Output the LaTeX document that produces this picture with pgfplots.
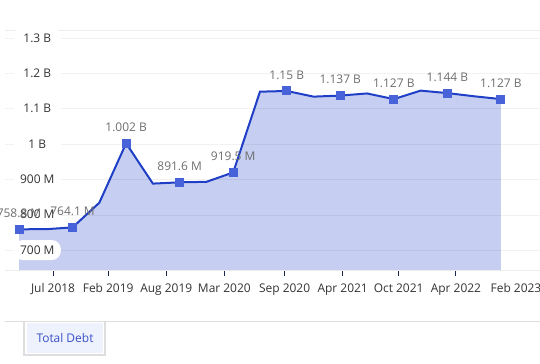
\documentclass[border=0pt]{standalone}
\usepackage{pgfplots}
\pgfplotsset{compat=1.18}
\usepackage{fontspec}
\setmainfont{Open Sans}
\definecolor{linec}{HTML}{1F3FC7}
\definecolor{fillc}{HTML}{C6CEF1}
\definecolor{markc}{HTML}{4863DA}
\definecolor{tickc}{HTML}{333333}
\definecolor{labc}{HTML}{6E6E6E}
\definecolor{navyc}{HTML}{1C2550}
\definecolor{legc}{HTML}{3A50C8}
\definecolor{legfill}{HTML}{EEF2FD}
\newcommand{\yl}[1]{\makebox[35bp][c]{#1}}
\begin{document}
\begin{tikzpicture}
\begin{axis}[
  at={(0,0)}, anchor=south west,
  scale only axis, width=535bp, height=240bp,
  xmin=-0.524, xmax=19.46,
  ymin=643.6, ymax=1322.5,
  axis on top,
  clip=false,
  separate axis lines,
  x axis line style={draw=black!7},
  y axis line style={draw=none},
  ytick={700,800,900,1000,1100,1200,1300},
  yticklabels={\yl{700 M},\yl{800 M},\yl{900 M},\yl{1 B},\yl{1.1 B},\yl{1.2 B},\yl{1.3 B}},
  ymajorgrids,
  major grid style={draw=black, draw opacity=0.05},
  ytick style={draw=none},
  yticklabel style={xshift=62bp, fill=white, rounded corners=9bp,
    inner xsep=6bp, minimum height=20bp, text=tickc, font=\fontsize{12}{14}\selectfont},
  xtick={1.27,3.33,5.50,7.67,9.92,12.09,14.18,16.32},
  xticklabels={Jul 2018,Feb 2019,Aug 2019,Mar 2020,Sep 2020,Apr 2021,Oct 2021,Apr 2022},
  extra x ticks={19.46},
  extra x tick labels={Feb 2023},
  extra x tick style={xticklabel style={xshift=-24bp}},
  tick align=outside,
  xtick pos=bottom,
  major tick length=6bp,
  xtick style={draw=navyc, line width=0.9bp},
  xticklabel style={text=tickc, yshift=-4bp, font=\fontsize{12}{14}\selectfont},
]
\addplot[fill=fillc, draw=none] coordinates {
 (0,643.6) (0,758.8) (1,759) (2,764.1) (3,834) (4,1002) (5,888) (6,891.6) (7,893) (8,919.5)
 (9,1148) (10,1150) (11,1134) (12,1137) (13,1143) (14,1127) (15,1151) (16,1144) (17,1135) (18,1127) (18,643.6)
} -- cycle;
\addplot[draw=linec, line width=2bp, mark=none] coordinates {
 (0,758.8) (1,759) (2,764.1) (3,834) (4,1002) (5,888) (6,891.6) (7,893) (8,919.5)
 (9,1148) (10,1150) (11,1134) (12,1137) (13,1143) (14,1127) (15,1151) (16,1144) (17,1135) (18,1127)
};
\addplot[color=markc, only marks, mark=square*, mark size=4bp, mark options={draw=markc, fill=markc, line width=0pt},
  nodes near coords, point meta=explicit symbolic,
  every node near coord/.append style={anchor=center, yshift=16bp, text=labc, font=\fontsize{12}{14}\selectfont}]
 table[meta=lab] {
x y lab
0 758.8 {758.8 M}
2 764.1 {764.1 M}
4 1002 {1.002 B}
6 891.6 {891.6 M}
8 919.5 {919.5 M}
10 1150 {1.15 B}
12 1137 {1.137 B}
14 1127 {1.127 B}
16 1144 {1.144 B}
18 1127 {1.127 B}
};
\end{axis}
\draw[draw=black!13, line width=1bp] (0bp,-51bp) -- (535bp,-51bp);
\fill[legfill] (22bp,-53bp) rectangle (98bp,-83bp);
\draw[draw=black!13, line width=1.2bp] (19bp,-51bp) -- (19bp,-85bp) -- (100bp,-85bp) -- (100bp,-51bp);
\node[text=legc, font=\fontsize{12}{14}\selectfont] at (60bp,-68bp) {Total Debt};
\pgfresetboundingbox
\path[use as bounding box] (-5bp,-94bp) rectangle (535bp,270bp);
\end{tikzpicture}
\end{document}
